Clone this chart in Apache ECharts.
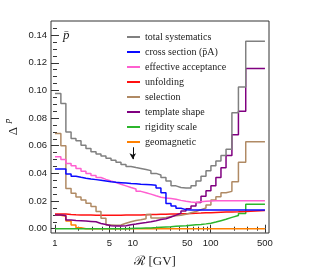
<!DOCTYPE html>
<html><head><meta charset="utf-8">
<script src="https://cdn.jsdelivr.net/npm/echarts@6/dist/echarts.min.js"></script>
<style>html,body{margin:0;padding:0;background:#fff}#c{width:317px;height:280px}</style>
</head><body><div id="c"></div>
<script>
// Rigidity bin edges [GV]
const edges = [1.00, 1.19, 1.38, 1.61, 1.86, 2.16, 2.50, 2.90, 3.37, 3.90, 4.52, 5.25, 6.08, 7.05, 8.18, 9.48, 11.0, 12.7, 14.8, 17.1, 19.9, 23.0, 26.7, 31.0, 35.9, 41.6, 48.3, 56.0, 64.9, 75.3, 87.3, 101, 117, 136, 158, 188, 228, 283, 500];

const totalSystematics = [0.0977, 0.0905, 0.070, 0.0653, 0.0636, 0.0604, 0.058, 0.0556, 0.054, 0.0525, 0.051, 0.0495, 0.048, 0.0465, 0.045, 0.0442, 0.0436, 0.0428, 0.042, 0.040, 0.0388, 0.037, 0.0345, 0.031, 0.0298, 0.0295, 0.0295, 0.031, 0.0345, 0.038, 0.042, 0.0455, 0.049, 0.053, 0.0575, 0.0838, 0.1025, 0.1355];
const crossSection = [0.0431, 0.0431, 0.0395, 0.038, 0.0372, 0.0365, 0.036, 0.0355, 0.035, 0.0345, 0.034, 0.0336, 0.0333, 0.033, 0.0327, 0.0325, 0.0322, 0.032, 0.0318, 0.0315, 0.0295, 0.026, 0.0183, 0.0165, 0.0148, 0.0138, 0.0135, 0.0135, 0.0135, 0.0135, 0.0135, 0.0135, 0.0135, 0.0135, 0.0135, 0.0135, 0.0135, 0.0135];
const effectiveAcceptance = [0.052, 0.050, 0.0472, 0.0455, 0.0435, 0.0415, 0.040, 0.0385, 0.037, 0.0357, 0.0345, 0.0334, 0.0322, 0.031, 0.0298, 0.0287, 0.027, 0.026, 0.025, 0.0238, 0.0228, 0.0222, 0.0218, 0.0213, 0.0205, 0.0198, 0.0193, 0.019, 0.0195, 0.0198, 0.020, 0.0202, 0.0202, 0.0202, 0.0202, 0.0202, 0.0202, 0.0202];
const unfolding = [0.0106, 0.0106, 0.0103, 0.0101, 0.0100, 0.0099, 0.0099, 0.0098, 0.0098, 0.0098, 0.0098, 0.0098, 0.0098, 0.0099, 0.0099, 0.0100, 0.0100, 0.0101, 0.0102, 0.0103, 0.0104, 0.0105, 0.0106, 0.0107, 0.0108, 0.0109, 0.0110, 0.0112, 0.0113, 0.0115, 0.0116, 0.0118, 0.0119, 0.0120, 0.0121, 0.0122, 0.0124, 0.0132];
const selection = [0.0689, 0.060, 0.029, 0.0256, 0.023, 0.0207, 0.0185, 0.016, 0.0125, 0.0075, 0.0027, 0.0025, 0.0027, 0.004, 0.005, 0.006, 0.0065, 0.0072, 0.0102, 0.0078, 0.0078, 0.0082, 0.0088, 0.0093, 0.0098, 0.0105, 0.0115, 0.0125, 0.0138, 0.015, 0.0171, 0.0207, 0.0231, 0.026, 0.027, 0.034, 0.048, 0.0628];
const templateShape = [0.0100, 0.0095, 0.0063, 0.006, 0.0058, 0.0056, 0.0053, 0.005, 0.0038, 0.003, 0.0022, 0.002, 0.002, 0.0022, 0.0028, 0.0034, 0.004, 0.0045, 0.005, 0.0058, 0.0066, 0.0072, 0.0085, 0.0098, 0.0112, 0.0128, 0.0145, 0.0165, 0.019, 0.0235, 0.0275, 0.031, 0.037, 0.044, 0.053, 0.068, 0.085, 0.1158];
const rigidityScale = [0, 0, 0, 0, 0, 0, 0, 0, 0, 0, 0, 0, 0, 0, 0.0002, 0.0003, 0.0004, 0.0005, 0.0006, 0.0008, 0.001, 0.0012, 0.0014, 0.0017, 0.002, 0.0022, 0.0025, 0.0028, 0.003, 0.0035, 0.004, 0.0048, 0.0058, 0.0068, 0.0082, 0.0095, 0.011, 0.0176];
const geomagnetic = [0.0098, 0.009, 0.0055, 0.0027, 0.0007, 0, 0, 0, 0, 0, 0, 0, 0, 0, 0, 0, 0, 0, 0, 0, 0, 0, 0, 0, 0, 0, 0, 0, 0, 0, 0, 0, 0, 0, 0, 0, 0, 0];

const legendNames = ['total systematics', 'cross section (p\u0304A)', 'effective acceptance', 'unfolding', 'selection', 'template shape', 'rigidity scale', 'geomagnetic'];
const xMajorTicks = [1, 5, 10, 50, 100, 500];
const xMinorTicks = [2, 3, 4, 6, 7, 8, 9, 20, 30, 40, 60, 70, 80, 90, 200, 300, 400];
const yMajorTicks = [0, 0.02, 0.04, 0.06, 0.08, 0.10, 0.12, 0.14];
const yMinorTicks = [0.005, 0.01, 0.015, 0.025, 0.03, 0.035, 0.045, 0.05, 0.055, 0.065, 0.07, 0.075, 0.085, 0.09, 0.095, 0.105, 0.11, 0.115, 0.125, 0.13, 0.135, 0.145];
const arrowAt = 10; // GV

const lg = v => Math.log10(v);
function steps(vals) {
  const pts = [];
  for (let i = 0; i < vals.length; i++) pts.push([lg(edges[i]), vals[i]]);
  pts.push([lg(edges[edges.length - 1]), vals[vals.length - 1]]);
  return pts;
}
const FRAME = '#333';
const X_MIN = -0.0514, X_MAX = 2.751, Y_MIN = -0.0031, Y_MAX = 0.1502;
function xAx(pos, ticks, len, labels) {
  return {
    type: 'value', min: X_MIN, max: X_MAX, position: pos,
    axisLine: { show: false }, splitLine: { show: false },
    axisTick: { show: true, inside: true, length: len, customValues: ticks.map(lg), lineStyle: { color: FRAME, width: 1 } },
    axisLabel: labels ? { show: true, customValues: ticks.map(lg), formatter: v => String(Math.round(Math.pow(10, v))), color: '#222', fontSize: 9.5, fontFamily: '"Liberation Sans", Arial, sans-serif', margin: 5 } : { show: false }
  };
}
function yAx(pos, ticks, len, labels) {
  return {
    type: 'value', min: Y_MIN, max: Y_MAX, position: pos,
    axisLine: { show: false }, splitLine: { show: false },
    axisTick: { show: true, inside: true, length: len, customValues: ticks, lineStyle: { color: FRAME, width: 1 } },
    axisLabel: labels ? { show: true, customValues: ticks, formatter: v => v.toFixed(2), color: '#222', fontSize: 9.5, fontFamily: '"Liberation Sans", Arial, sans-serif', margin: 4 } : { show: false }
  };
}
function line(name, vals, color, z) {
  return { name, type: 'line', step: 'end', data: steps(vals), symbol: 'none', showSymbol: false,
    lineStyle: { color, width: 1.5 }, itemStyle: { color }, z, xAxisIndex: 0, yAxisIndex: 0, silent: true };
}
const series = [
  line(legendNames[7], geomagnetic, '#ff8000', 2),
  line(legendNames[6], rigidityScale, '#2cb52c', 3),
  line(legendNames[3], unfolding, '#ff1010', 4),
  line(legendNames[4], selection, '#b08a64', 5),
  line(legendNames[5], templateShape, '#800080', 6),
  line(legendNames[2], effectiveAcceptance, '#ff5fd0', 7),
  line(legendNames[1], crossSection, '#0a0aff', 8),
  line(legendNames[0], totalSystematics, '#808080', 9)
];
series[7].markLine = {
  silent: true, symbol: ['none', 'arrow'], symbolSize: [5, 6],
  lineStyle: { color: '#111', width: 1, type: 'solid' }, label: { show: false },
  data: [[{ coord: [lg(arrowAt), 0.0589] }, { coord: [lg(arrowAt), 0.0503] }]]
};
const chart = echarts.init(document.getElementById('c'), null, { renderer: 'canvas' });
chart.setOption({
  animation: false,
  backgroundColor: '#fff',
  grid: { left: 51, top: 21, width: 218, height: 212, show: true, borderColor: FRAME, borderWidth: 1, backgroundColor: 'transparent' },
  xAxis: [xAx('bottom', xMajorTicks, 4, true), xAx('bottom', xMinorTicks, 2, false), xAx('top', xMajorTicks, 4, false), xAx('top', xMinorTicks, 2, false)],
  yAxis: [yAx('left', yMajorTicks, 4, true), yAx('left', yMinorTicks, 2, false), yAx('right', yMajorTicks, 4, false), yAx('right', yMinorTicks, 2, false)],
  legend: {
    data: legendNames, orient: 'vertical', left: 127, top: 32, padding: 0, itemGap: 5,
    itemWidth: 13, itemHeight: 2, icon: 'rect', selectedMode: false,
    textStyle: { fontFamily: '"Liberation Serif", "DejaVu Serif", serif', fontSize: 10, color: '#222', lineHeight: 10 }
  },
  graphic: [
    { type: 'text', x: 63, y: 29, style: { text: 'p\u0304', font: 'italic 13px "Liberation Serif", serif', fill: '#222' } },
    { type: 'text', x: 155, y: 262, style: { text: '\u211B [GV]', font: '13px "Liberation Serif", "DejaVu Serif", serif', fill: '#222', align: 'center', verticalAlign: 'middle' } },
    { type: 'text', x: 14, y: 131, rotation: Math.PI / 2, style: { text: '\u0394', font: '13px "Liberation Serif", serif', fill: '#222', align: 'center', verticalAlign: 'middle' } },
    { type: 'text', x: 8, y: 121, rotation: Math.PI / 2, style: { text: 'p\u0304', font: 'italic 9px "Liberation Serif", serif', fill: '#222', align: 'center', verticalAlign: 'middle' } }
  ],
  series
});
</script></body></html>
